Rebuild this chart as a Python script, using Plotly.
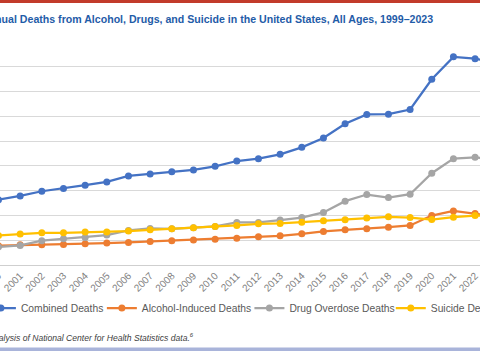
import plotly.graph_objects as go

years = list(range(1999, 2024))
combined = [62000, 65700, 69700, 74400, 77100, 80500, 83800, 89900, 91900, 94200, 95900,
            99600, 104900, 107300, 111700, 118700, 128100, 142500, 151900, 152200, 156900,
            187400, 210000, 208200, 204000]
alcohol = [19000, 19400, 20400, 20400, 20800, 21500, 22100, 22800, 23800, 24500, 25100,
           26100, 27100, 28500, 29500, 31500, 33900, 35500, 36500, 38200, 39900,
           49900, 54600, 52000, 49000]
drug = [16800, 18100, 19800, 24500, 26500, 27800, 30200, 34900, 36900, 36500, 37500,
        38900, 42900, 42900, 45300, 47900, 53000, 64400, 71100, 68100, 71400,
        92600, 107300, 108700, 106000]
suicide = [29200, 29800, 31200, 32500, 32500, 33200, 33200, 34200, 35500, 36500, 37500,
           38900, 39900, 41600, 41900, 43200, 44600, 45600, 47300, 48600, 47900,
           45900, 48300, 49900, 49300]

series = [
    ("Combined Deaths", combined, "#4472C4"),
    ("Alcohol-Induced Deaths", alcohol, "#ED7D31"),
    ("Drug Overdose Deaths", drug, "#A5A5A5"),
    ("Suicide Deaths", suicide, "#FFC000"),
]

title_text = "Annual Deaths from Alcohol, Drugs, and Suicide in the United States, All Ages, 1999\u20132023"
source_text = "<i>Source: TFAH analysis of National Center for Health Statistics data.<sup>6</sup></i>"

# The reference is a crop of a wider chart: the page shows it shifted left by DX px.
DX = 80
VW, VH = 480, 360
W, H = 780, 360
T, B = 42, 95
L = 45.8
R = 60
PH = H - T - B
PW = W - L - R
YEAR_PX = 21.67
LEGEND_TEXT_X = [20.7, 141.7, 289.3, 430.7]   # where each legend label starts in the view


def py(y):
    return (H - B - y) / PH


def px(x):
    return (x - L) / PW


fig = go.Figure()
legend_layout = {}
for i, (name, vals, color) in enumerate(series):
    key = "legend" if i == 0 else "legend%d" % (i + 1)
    fig.add_trace(go.Scatter(
        x=years, y=vals, name=name, mode="lines+markers",
        line=dict(color=color, width=2.25),
        marker=dict(color=color, size=7),
        hoverinfo="skip", legend=key,
    ))
    legend_layout[key] = dict(
        orientation="h", x=px(DX + LEGEND_TEXT_X[i] - 40), xanchor="left",
        y=py(308), yanchor="middle",
        font=dict(size=10.3, color="#595959"), bgcolor="rgba(0,0,0,0)",
        itemclick=False, itemdoubleclick=False)

fig.update_layout(
    width=W, height=H,
    margin=dict(l=L, r=R, t=T, b=B, autoexpand=False),
    paper_bgcolor="white", plot_bgcolor="white",
    font=dict(family="Liberation Sans, Arial, sans-serif", color="#595959"),
    showlegend=True,
    xaxis=dict(range=[1998.5, 1998.5 + PW / YEAR_PX], tickvals=years,
               ticktext=[str(y) for y in years],
               tickangle=-45, tickfont=dict(size=10, color="#7f7f7f"),
               showgrid=False, zeroline=False, showline=True, linecolor="#cfcfcf",
               linewidth=1, ticks="", fixedrange=True),
    yaxis=dict(range=[0, 225000], dtick=25000, showgrid=True, gridcolor="#d9d9d9",
               gridwidth=1, zeroline=False, showticklabels=False, fixedrange=True),
    shapes=[
        dict(type="rect", xref="paper", yref="paper", x0=px(0), x1=px(W), y0=py(3), y1=py(-1),
             fillcolor="#C23B2A", line=dict(width=0), layer="above"),
        dict(type="rect", xref="paper", yref="paper", x0=px(0), x1=px(W), y0=py(351), y1=py(347.5),
             fillcolor="#A9B4DA", line=dict(width=0), layer="above"),
    ],
    annotations=[
        dict(text="<b>" + title_text + "</b>", xref="paper", yref="paper",
             x=px(DX - 20.7), y=py(19), xanchor="left", yanchor="middle", showarrow=False,
             font=dict(size=10.6, color="#1F5CA8", family="Liberation Sans, Arial, sans-serif")),
        dict(text=source_text, xref="paper", yref="paper",
             x=px(DX + 196), y=py(337), xanchor="right", yanchor="middle", showarrow=False,
             font=dict(size=8.6, color="#404040")),
    ],
    **legend_layout,
)

js = (
    "document.documentElement.style.overflow='hidden';"
    "document.body.style.margin='0';"
    "document.body.style.overflow='hidden';"
    "var gd=document.getElementById('{plot_id}');"
    "gd.parentElement.style.cssText='width:" + str(VW) + "px;height:" + str(VH)
    + "px;overflow:hidden;position:relative;';"
    "gd.style.marginLeft='-" + str(DX) + "px';"
)

fig.write_html("out.html", config={"displayModeBar": False}, post_script=js)
